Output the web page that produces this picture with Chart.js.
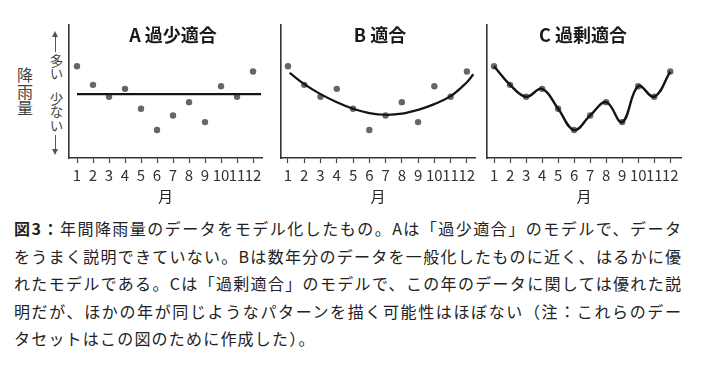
<!DOCTYPE html>
<html lang="ja">
<head>
<meta charset="utf-8">
<script src="https://cdn.jsdelivr.net/npm/chart.js@4/dist/chart.umd.min.js"></script>
<style>
	body { margin: 0; background: #fff; font-family: "Noto Sans CJK JP", "Noto Sans", sans-serif; color: #222; }
	#page { position: relative; width: 704px; height: 370px; overflow: hidden; }
	.panel { position: absolute; top: 0; width: 212px; height: 205px; }
	.vlab { position: absolute; writing-mode: vertical-rl; line-height: 1; color: #444; }
	.line { position: absolute; left: 55px; width: 0; border-left: 1px solid #555; }
	.head { position: absolute; left: 52px; width: 0; height: 0; border-left: 3.5px solid transparent; border-right: 3.5px solid transparent; }
	#caption { position: absolute; left: 14px; top: 215px; width: 667px; font-size: 16px; line-height: 27.5px; color: #222; }
	#caption div { text-align: justify; text-align-last: justify; white-space: nowrap; }
	#caption div.last { text-align: left; text-align-last: left; letter-spacing: 1.2px; }
</style>
</head>
<body>
<div id="page">
	<div class="vlab" style="left:17px; top:67px; font-size:16px; letter-spacing:0.5px;">降雨量</div>
	<div class="head" style="top:31px; border-bottom:6px solid #555;"></div>
	<div class="line" style="top:35px; height:17px;"></div>
	<div class="vlab" style="left:49px; top:54px; font-size:13.5px;">多い</div>
	<div class="vlab" style="left:49px; top:92px; font-size:13.5px;">少ない</div>
	<div class="line" style="top:135px; height:16px;"></div>
	<div class="head" style="top:149px; border-top:6px solid #555;"></div>

	<div class="panel" style="left:60px;"><canvas id="chartA"></canvas></div>
	<div class="panel" style="left:272px;"><canvas id="chartB"></canvas></div>
	<div class="panel" style="left:478px;"><canvas id="chartC"></canvas></div>

	<div id="caption">
		<div><b>図3：</b>年間降雨量のデータをモデル化したもの。Aは「過少適合」のモデルで、データ</div>
		<div>をうまく説明できていない。Bは数年分のデータを一般化したものに近く、はるかに優</div>
		<div>れたモデルである。Cは「過剰適合」のモデルで、この年のデータに関しては優れた説</div>
		<div>明だが、ほかの年が同じようなパターンを描く可能性はほぼない（注：これらのデー</div>
		<div class="last">タセットはこの図のために作成した）。</div>
	</div>
</div>

<script>
// monthly rainfall (arbitrary units)
var months = [1, 2, 3, 4, 5, 6, 7, 8, 9, 10, 11, 12];
var rainfall = [6.9, 5.5, 4.6, 5.2, 3.7, 2.1, 3.2, 4.2, 2.7, 5.4, 4.6, 6.5];

// A: flat line
var underfitX = [1, 12.5];
var underfitY = [4.8, 4.8];

// B: smooth curve
var goodfitX = [1.1, 2, 3, 4, 5, 6, 7, 8, 9, 10, 11, 12, 12.4];
var goodfitY = [6.4, 5.55, 4.8, 4.2, 3.7, 3.38, 3.25, 3.33, 3.62, 4.05, 4.65, 5.7, 6.3];

var titles = ['A 過少適合', 'B 適合', 'C 過剰適合'];
var axisTitle = '月';

Chart.defaults.font.family = '"Noto Sans CJK JP", "Noto Sans", sans-serif';
Chart.defaults.color = '#222';

function pairs(xs, ys) {
	return xs.map(function(x, i) { return {x: x, y: ys[i]}; });
}

var panelTitle = {
	id: 'panelTitle',
	afterDraw: function(chart, args, opts) {
		var ctx = chart.ctx;
		var area = chart.chartArea;
		ctx.save();
		ctx.font = 'bold 18px "Noto Sans CJK JP", "Noto Sans", sans-serif';
		ctx.fillStyle = '#1a1a1a';
		ctx.textAlign = 'center';
		ctx.textBaseline = 'middle';
		ctx.fillText(opts.text, (area.left + area.right) / 2 + opts.dx, area.top + 10);
		ctx.restore();
	}
};

function dotSet() {
	return {
		type: 'scatter',
		data: pairs(months, rainfall),
		pointRadius: 3.2,
		pointBackgroundColor: '#666',
		pointBorderWidth: 0,
		order: 2
	};
}

function curveSet(data, tension, width) {
	return {
		type: 'line',
		data: data,
		showLine: true,
		borderColor: '#141414',
		borderWidth: width,
		tension: tension,
		pointRadius: 0,
		fill: false,
		order: 1
	};
}

function makeOptions(title, dx, xmin, xmax, pad) {
	return {
		responsive: true,
		maintainAspectRatio: false,
		animation: false,
		layout: { padding: pad },
		plugins: {
			legend: { display: false },
			tooltip: { enabled: false },
			panelTitle: { text: title, dx: dx }
		},
		scales: {
			x: {
				type: 'linear',
				min: xmin,
				max: xmax,
				afterBuildTicks: function(axis) {
					axis.ticks = months.map(function(m) { return {value: m}; });
				},
				ticks: {
					autoSkip: false,
					maxRotation: 0,
					minRotation: 0,
					padding: 3,
					color: '#333',
					font: { size: 15 }
				},
				grid: {
					drawOnChartArea: false,
					drawTicks: true,
					tickLength: 5,
					tickWidth: 1.2,
					color: '#444'
				},
				border: { display: true, color: '#333', width: 1.6 },
				title: {
					display: true,
					text: axisTitle,
					color: '#222',
					font: { size: 15 },
					padding: { top: 0, bottom: 0 }
				}
			},
			y: {
				min: 0,
				max: 10,
				ticks: { display: false },
				grid: { display: false, drawTicks: false },
				border: { display: true, color: '#333', width: 1.6 }
			}
		}
	};
}

var chartA = new Chart(document.getElementById('chartA'), {
	type: 'scatter',
	data: { datasets: [dotSet(), curveSet(pairs(underfitX, underfitY), 0, 2.2)] },
	options: makeOptions(titles[0], 7.5, 0.5, 12.56, {left: 9, right: 10, top: 25, bottom: 0}),
	plugins: [panelTitle]
});

var chartB = new Chart(document.getElementById('chartB'), {
	type: 'scatter',
	data: { datasets: [dotSet(), curveSet(pairs(goodfitX, goodfitY), 0.4, 2.2)] },
	options: makeOptions(titles[1], 2, 0.57, 12.5, {left: 9, right: 9, top: 25, bottom: 0}),
	plugins: [panelTitle]
});

var chartC = new Chart(document.getElementById('chartC'), {
	type: 'scatter',
	data: { datasets: [dotSet(), curveSet(pairs(months, rainfall), 0.4, 2.4)] },
	options: makeOptions(titles[2], -1, 0.56, 12.67, {left: 9, right: 9, top: 25, bottom: 0}),
	plugins: [panelTitle]
});
</script>
</body>
</html>
